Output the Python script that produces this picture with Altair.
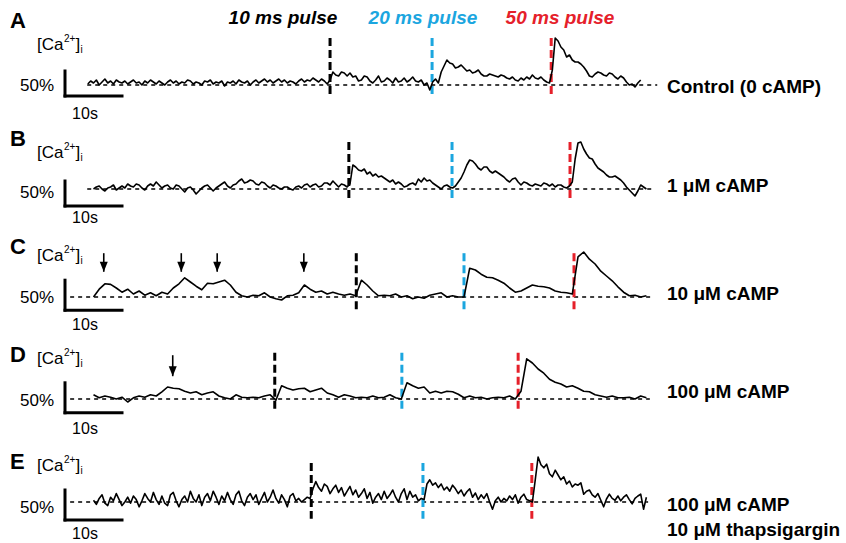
import altair as alt
import pandas as pd

FONT = "Liberation Sans"
BLUE = "#1ba6df"
RED = "#e5202a"

# ---- data: [Ca2+]i change (%); time (s) from the scale-bar origin
# panel A: sampled every 0.5 s from t = 4 s
A_T0, A_STEP = 4, 0.5
A_VALS = [2, 8, 4, 10, 0, 6, 12, 4, 8, 2, 10, 6, 4, 8, 2, 6, 10, 4, 6, 0,
          8, 4, 10, 6, 2, 8, 4, 0, 6, 10, 4, 8, 2, 6, 4, 10, 8, 2, 6, 4,
          0, 8, 6, 10, 2, 6, 4, 8, -2, 6, 4, 8, 2, 10, 6, 4, 8, 0, 6, 10,
          4, 8, 12, 6, 10, 4, 8, 12, 6, 10, 4, 8, 6, 2, 8, 12, 6, 10, 8, 14,
          10, 6, 12, 8, 2,
          10, 26, 20, 18, 26, 24, 18, 24, 16, 18, 8, 10, 18, 16, 8, 4, 10, 18, 6, 8,
          14, 10, 4, 14, 6, 8, 14, 6, 10, 16, 8, 6, 10, 0, 4,
          -10, 6, 12, 4, 26, 38, 50, 44, 42, 34, 36, 40, 34, 28, 30, 24, 26, 30, 22, 18,
          18, 22, 20, 18, 16, 20, 18, 14, 12, 16, 10, 8, 14, 10, 16, 12, 20, 14, 12, 16,
          10, 6, 4, 30, 94, 88, 76, 70, 56, 60, 50, 46, 46, 42, 36, 28, 18, 16, 22, 26,
          24, 20, 18, 24, 22, 16, 12, 18, 14, 6, 0, 2, -4, 4, 10]

# panel B: sampled every 0.5 s from t = 5 s
B_T0, B_STEP = 5, 0.5
B_VALS = [0, 4, 6, 0, -4, 2, 4, 8, -2, 2, 6, 2, 10, 6, 4, 10, 8, 2, -2, 6,
          10, 6, 14, 8, 2, 6, 8, 2, 0, 8, 6, 0, -6, 2, 4, -2, -10, -4, 2, 6,
          8, 2, -4, 2, 6, 10, 14, 6, 2, 8, 10, 16, 20, 12, 14, 18, 16, 10, 8, 14,
          12, 6, 2, 8, 6, 2, 0, 4, 4, 0, -2, 4, 6, 2, 8, 10, 4, 8, 10, 4,
          6, 12, 12, 8, 16, 10, 4, 10, 8, 4,
          10, 48, 44, 38, 36, 40, 30, 34, 26, 30, 24, 26, 22, 18, 14, 18, 10, 14, 10, 4,
          6, 10, 12, 8, 20, 14, 22, 16, 18, 12, 8, 4, 0, 6, 8, 4, 2, 6, 14, 22,
          34, 48, 58, 56, 50, 42, 38, 44, 44, 36, 32, 36, 32, 28, 24, 18, 14, 20, 22, 14,
          8, 14, 12, 8, 6, 10, 8, 6, 12, 10, 6, 10, 4, 8, 8, 4, 2, 6, 14, 60,
          92, 94, 80, 70, 62, 60, 50, 42, 38, 34, 28, 24, 24, 26, 22, 18, 12, 4, -2, -8,
          -14, -4, 8, 4, 0]

# panel C: sampled every 1 s from t = 5 s
C_T0, C_STEP = 5, 1
C_VALS = [0, 13, 22, 21, 15, 8, 13, 5, 10, 3, 7, 2, 8, 5, 15, 22, 32, 25, 18, 12,
          23, 22, 25, 28, 20, 8, 2, 0, 3, 2, 7, 0, -3, -5, 2, 3, 7, 20, 13, 8,
          10, 5, 8, 5, 3, 5, 2, 28, 20, 10, 2, 3, 2, 5, 0, 2, -3, 0, -2, 3,
          5, 7, 0, 2, 0, 0, 48, 45, 38, 33, 32, 28, 23, 15, 8, 10, 15, 20, 18, 17,
          15, 10, 8, 7, 5, 67, 75, 63, 55, 43, 35, 27, 17, 8, 2, 3, 0, 2]

# panel D: sampled every 1 s from t = 5 s
D_T0, D_STEP = 5, 1
D_VALS = [7, 2, 5, 3, 0, 3, -5, 2, 5, 3, 7, 5, 12, 20, 18, 17, 13, 10, 12, 7,
          10, 12, 5, 2, 0, 7, 3, 2, 3, 2, 5, 7, -2, 22, 18, 15, 17, 18, 12, 15,
          18, 10, 7, 3, 7, 5, 2, 3, 2, 5, 2, 3, 7, 2, 0, 27, 22, 18, 20, 10,
          13, 10, 13, 12, 8, 2, 5, 2, 3, 0, 2, 3, 2, 5, 0, 13, 67, 60, 50, 43,
          33, 28, 25, 20, 22, 18, 13, 12, 7, 5, 3, 5, 2, 2, 3, 0, 5, 2]

# panel E: sampled every 0.5 s from t = 5 s
E_T0, E_STEP = 5, 0.5
E_VALS = [3, -4, 6, 12, -2, -6, 8, 2, 14, 4, -6, 0, 8, -2, 10, 4, -8, 2, 14, 6,
          0, 16, 4, -4, 10, -2, -6, 12, 16, 2, -8, 4, 10, 0, 18, 6, 0, 12, -6, 8,
          14, 2, 18, 8, -4, 10, 2, 16, 4, -4, 12, 18, 2, -6, 8, 14, 4, 12, -4, 6,
          16, 0, 8, 20, 6, -2, 12, 4, -8, 10, 14, 2, 6, 0, 4, 8, 6,
          22, 34, 24, 18, 30, 26, 14, 22, 28, 16, 24, 10, 18, 26, 12, 20, 8, 14, 22, 6,
          16, -2, 8, 14, 4, 18, 6, 12, 20, 8, 0, 14, 22, 4, 18, 8, 12, 2, 6,
          4, 30, 37, 28, 32, 24, 30, 20, 25, 18, 28, 22, 14, 20, 10, 17, 22, 8, 15, 4,
          12, 6, 14, 0, -12, 2, 8, 0, 6, 2, 10, 4, 12, -2, 8, 13, 4, 2,
          0, 37, 75, 62, 57, 63, 47, 42, 53, 45, 37, 42, 30, 35, 25, 30, 28, 32, 13, 18,
          20, 12, 8, 14, 3, -8, 5, 13, 6, 3, 10, 2, 8, 12, 4, -3, 6, 10, 13, -12, 8]

# pulse onset times (s)
A_PULSES = [46.5, 64.4, 85.3]
B_PULSES = [49.8, 67.9, 88.6]
C_PULSES = [51.1, 70.0, 89.3]
D_PULSES = [36.8, 59.1, 79.5]
E_PULSES = [43.2, 62.8, 81.9]

# spontaneous event arrows (s)
C_ARROWS = [6.8, 20.4, 26.7, 41.9]
D_ARROWS = [18.9]

LETTERS = ["A", "B", "C", "D", "E"]
CONDITIONS = [["Control (0 cAMP)"], ["1 \u03bcM cAMP"], ["10 \u03bcM cAMP"],
              ["100 \u03bcM cAMP"], ["100 \u03bcM cAMP", "10 \u03bcM thapsigargin"]]
PULSE_NAMES = ["10 ms pulse", "20 ms pulse", "50 ms pulse"]
PULSE_COLORS = ["black", BLUE, RED]

TRACES = [(A_T0, A_STEP, A_VALS), (B_T0, B_STEP, B_VALS), (C_T0, C_STEP, C_VALS),
          (D_T0, D_STEP, D_VALS), (E_T0, E_STEP, E_VALS)]
PULSES = [A_PULSES, B_PULSES, C_PULSES, D_PULSES, E_PULSES]
ARROWS = [[], [], C_ARROWS, D_ARROWS, []]

# ---- layout (pixels)
W = 846
PX_PER_S = 5.7
X0 = 65
LAYOUT = [
    dict(top=0, h=123, base=85, k=0.5, bar_lo=-22, p_top=94, p_bot=-20, dash=(3.9, 103.9),
         arrow=(0, 0), letter_y=21, ca_y=45, pct_y=86, s_y=114, cond_y=[87]),
    dict(top=123, h=105, base=66, k=0.5, bar_lo=-34, p_top=94, p_bot=-18, dash=(3.9, 103.0),
         arrow=(0, 0), letter_y=139, ca_y=153, pct_y=193, s_y=218, cond_y=[186]),
    dict(top=228, h=104, base=69, k=0.6, bar_lo=-22, p_top=73, p_bot=-25, dash=(0.9, 103.0),
         arrow=(73, 42), letter_y=247, ca_y=256, pct_y=298, s_y=325, cond_y=[294]),
    dict(top=332, h=105, base=67, k=0.6, bar_lo=-23, p_top=77, p_bot=-20, dash=(0.9, 102.6),
         arrow=(73, 38), letter_y=355, ca_y=359, pct_y=401, s_y=429, cond_y=[392]),
    dict(top=437, h=106, base=65, k=0.6, bar_lo=-30, p_top=65, p_bot=-28, dash=(0.9, 102.3),
         arrow=(0, 0), letter_y=462, ca_y=466, pct_y=508, s_y=534, cond_y=[505, 530]),
]

ONE = pd.DataFrame({"a": [0]})


def txt(x, y, s, size, weight="normal", style="normal", color="black", align="left"):
    return alt.Chart(ONE).mark_text(
        text=s, fontSize=size, fontWeight=weight, fontStyle=style, color=color,
        align=align, baseline="middle", font=FONT
    ).encode(x=alt.value(x), y=alt.value(y))


def panel(i):
    L = LAYOUT[i]
    top = L["top"]
    xs = alt.Scale(domain=[-X0 / PX_PER_S, (W - X0) / PX_PER_S], nice=False, zero=False)
    ys = alt.Scale(domain=[-(L["h"] - L["base"]) / L["k"], L["base"] / L["k"]], nice=False, zero=False)

    def X(f):
        return alt.X(f, type="quantitative", scale=xs, axis=None)

    def Y(f):
        return alt.Y(f, type="quantitative", scale=ys, axis=None)

    t0, step, vals = TRACES[i]
    tr = pd.DataFrame({"t": [t0 + j * step for j in range(len(vals))], "v": vals})
    layers = []

    base = pd.DataFrame({"a": [L["dash"][0]], "b": [L["dash"][1]], "z": [0]})
    layers.append(alt.Chart(base).mark_rule(strokeDash=[4, 4], strokeWidth=1.6, color="black")
                  .encode(x=X("a"), x2="b", y=Y("z")))

    pdf = pd.DataFrame({"t": PULSES[i], "top": [L["p_top"]] * 3, "bot": [L["p_bot"]] * 3,
                        "c": PULSE_COLORS})
    layers.append(alt.Chart(pdf).mark_rule(strokeWidth=3, strokeDash=[8, 4])
                  .encode(x=X("t"), y=Y("top"), y2="bot", color=alt.Color("c:N", scale=None)))

    lo = L["bar_lo"]
    bars = pd.DataFrame({"x": [0, 0], "x2": [0, 10], "y": [lo, lo], "y2": [lo + 50, lo]})
    layers.append(alt.Chart(bars).mark_rule(strokeWidth=3, color="black", strokeCap="square")
                  .encode(x=X("x"), x2="x2", y=Y("y"), y2="y2"))

    layers.append(alt.Chart(tr).mark_line(color="black", strokeWidth=1.6, strokeJoin="round")
                  .encode(x=X("t"), y=Y("v")))

    if ARROWS[i]:
        atop, atip = L["arrow"]
        adf = pd.DataFrame({"t": ARROWS[i], "top": [atop] * len(ARROWS[i]),
                            "tip": [atip] * len(ARROWS[i])})
        layers.append(alt.Chart(adf).mark_rule(strokeWidth=1.6, color="black")
                      .encode(x=X("t"), y=Y("top"), y2="tip"))
        layers.append(alt.Chart(adf).mark_point(shape="M-1,-2.5L1,-2.5L0,0Z", filled=True,
                                                 size=64, color="black", opacity=1)
                      .encode(x=X("t"), y=Y("tip")))

    # texts
    layers.append(txt(10, L["letter_y"] - top, LETTERS[i], 22, weight="bold"))
    cy = L["ca_y"] - top
    cx = 37
    layers.append(txt(cx, cy, "[Ca", 17))
    layers.append(txt(cx + 27, cy - 6, "2+", 10))
    layers.append(txt(cx + 38.5, cy, "]", 17))
    layers.append(txt(cx + 43.5, cy + 5, "i", 10))
    layers.append(txt(54, L["pct_y"] - top, "50%", 17, align="right"))
    layers.append(txt(85, L["s_y"] - top, "10s", 16, align="center"))
    for s, y in zip(CONDITIONS[i], L["cond_y"]):
        layers.append(txt(667, y - top, s, 19, weight="bold"))
    if i == 0:
        for name, col, xc in zip(PULSE_NAMES, PULSE_COLORS, [283, 423, 560]):
            layers.append(txt(xc, 18, name, 19, weight="bold", style="italic", color=col,
                              align="center"))

    return alt.layer(*layers).properties(width=W, height=L["h"])


chart = alt.vconcat(*[panel(i) for i in range(5)], spacing=0, bounds="flush").properties(
    padding=0, background="white"
).configure_view(stroke=None)

chart.save("out.html", embed_options={"renderer": "svg", "actions": False})
